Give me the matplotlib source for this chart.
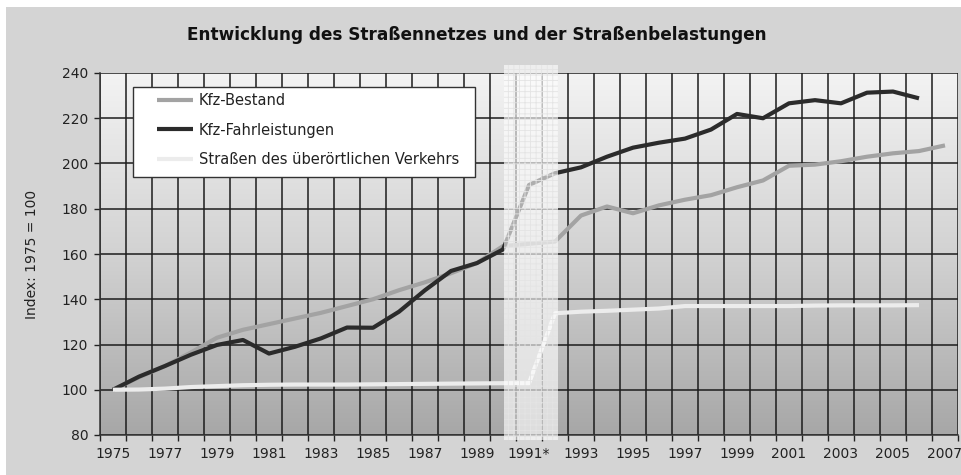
import numpy as np
import matplotlib
matplotlib.use("Agg")
import matplotlib.pyplot as plt
from matplotlib.patches import Rectangle
from matplotlib.colors import LinearSegmentedColormap

# ---------------- data ----------------
years = list(range(1975, 2008))
year_labels = [("1991*" if y == 1991 else str(y)) if (y - 1975) % 2 == 0 else "" for y in years]

kfz_bestand = [100, 105.5, 110.5, 116.5, 123, 126.5, 129, 131.5, 134, 137,
               140, 144, 147.5, 151.5, 156, 163.5, 164.5, 165.5, 177, 181,
               178, 181.5, 184, 186, 189.5, 192.5, 199, 199.5, 201, 203,
               204.5, 205.5, 208]                      # 1975-2007
kfz_fahrleistung = [100, 105.8, 110.5, 115.5, 119.8, 122, 116, 119, 122.7, 127.5,
                    127.4, 134.5, 144, 152.5, 156, 162, 190.5, 195.7, 198.3, 203,
                    207, 209.2, 211, 215, 221.9, 220, 226.6, 228, 226.6, 231.3,
                    231.8, 228.8]                      # 1975-2006
strassen = [100, 100.1, 100.5, 101.2, 101.6, 102, 102.2, 102.3, 102.3, 102.3,
            102.4, 102.5, 102.6, 102.7, 102.8, 102.9, 102.9, 133.8, 134.5, 134.9,
            135.4, 135.9, 137, 137, 137, 137, 137, 137.2, 137.3, 137.3,
            137.3, 137.4]                              # 1975-2006

series_names = ["Kfz-Bestand", "Kfz-Fahrleistungen", "Straßen des überörtlichen Verkehrs"]
series_colors = ["#a3a3a3", "#2b2b2b", "#ececec"]

title = "Entwicklung des Straßennetzes und der Straßenbelastungen"
ylabel = "Index: 1975 = 100"

# ---------------- figure ----------------
W, H = 962, 475
plt.rcParams["font.family"] = ["DejaVu Sans"]
plt.rcParams["hatch.linewidth"] = 0.6
fig = plt.figure(figsize=(W / 100, H / 100), dpi=100, facecolor="white")

# grey outer background (white margin at left/top)
fig.patches.append(Rectangle((6 / W, 0), 1, 1 - 7 / H, transform=fig.transFigure,
                             facecolor="#d4d4d4", edgecolor="none", zorder=-10))

ax = fig.add_axes([100 / W, (H - 435) / H, 858 / W, (435 - 73) / H])
ax.set_facecolor("none")

# gradient plot area
cmap = LinearSegmentedColormap.from_list("g", ["#a7a7a7", "#d2d2d2", "#f3f3f3"])
grad = np.linspace(0, 1, 256).reshape(-1, 1)
ax.imshow(grad, extent=[0, 1, 0, 1], transform=ax.transAxes, cmap=cmap,
          origin="lower", aspect="auto", zorder=-5)

x = np.arange(len(years))
ax.set_xlim(-0.5, len(years) - 0.5)
ax.set_ylim(80, 240)

# grid / ticks
ax.set_xticks(np.arange(-0.5, len(years), 1.0))
ax.set_xticklabels([])
ax.set_xticks(x, minor=True)
ax.set_xticklabels(year_labels, minor=True)
ax.set_yticks(np.arange(80, 241, 20))
ax.tick_params(axis="x", which="major", length=4.5, width=1, color="#222222", direction="out")
ax.tick_params(axis="x", which="minor", length=0, pad=9, labelsize=10, labelcolor="#222222")
ax.tick_params(axis="y", length=4.5, width=1, color="#222222", pad=4, labelsize=10,
               labelcolor="#222222")
ax.grid(True, which="major", axis="both", color="#1c1c1c", linewidth=1.1, zorder=0)
ax.set_axisbelow(True)
for s in ["top", "right"]:
    ax.spines[s].set_visible(False)
for s in ["left", "bottom"]:
    ax.spines[s].set_color("#333333")
    ax.spines[s].set_linewidth(1.1)

# series
data = [kfz_bestand, kfz_fahrleistung, strassen]
handles = []
for vals, name, col in zip(data, series_names, series_colors):
    ln, = ax.plot(x[:len(vals)], vals, color=col, linewidth=3.0, solid_capstyle="butt",
                  solid_joinstyle="round", label=name, zorder=3)
    handles.append(ln)

# highlighted band around 1991
band = Rectangle((15.05, 77.8), 2.05, 165.7, facecolor=(1, 1, 1, 0.62),
                 edgecolor="#e4e4e4", linewidth=0, hatch="+++", clip_on=False, zorder=4)
ax.add_patch(band)

ax.set_ylabel(ylabel, fontsize=10, color="#222222")
ax.yaxis.set_label_coords(-(100 - 39) / 858, 0.5)

fig.text(477 / W, 1 - 35 / H, title, ha="center", va="center", fontsize=12.2,
         fontweight="bold", color="#111111")

# legend frame + entries
fig.patches.append(Rectangle((133 / W, 1 - 177 / H), (475 - 133) / W, (177 - 87) / H,
                             transform=fig.transFigure, facecolor="white",
                             edgecolor="#333333", linewidth=1.0, zorder=4))
leg = fig.legend(handles=handles, loc="upper left",
                 bbox_to_anchor=(157 / W, 1 - 93 / H), frameon=False,
                 fontsize=10.5, handlelength=2.47, handletextpad=0.4,
                 labelspacing=1.0, borderpad=0.0, borderaxespad=0)
leg.set_zorder(5)
for t in leg.get_texts():
    t.set_color("#222222")

fig.savefig("out.png", dpi=100, facecolor="white")
